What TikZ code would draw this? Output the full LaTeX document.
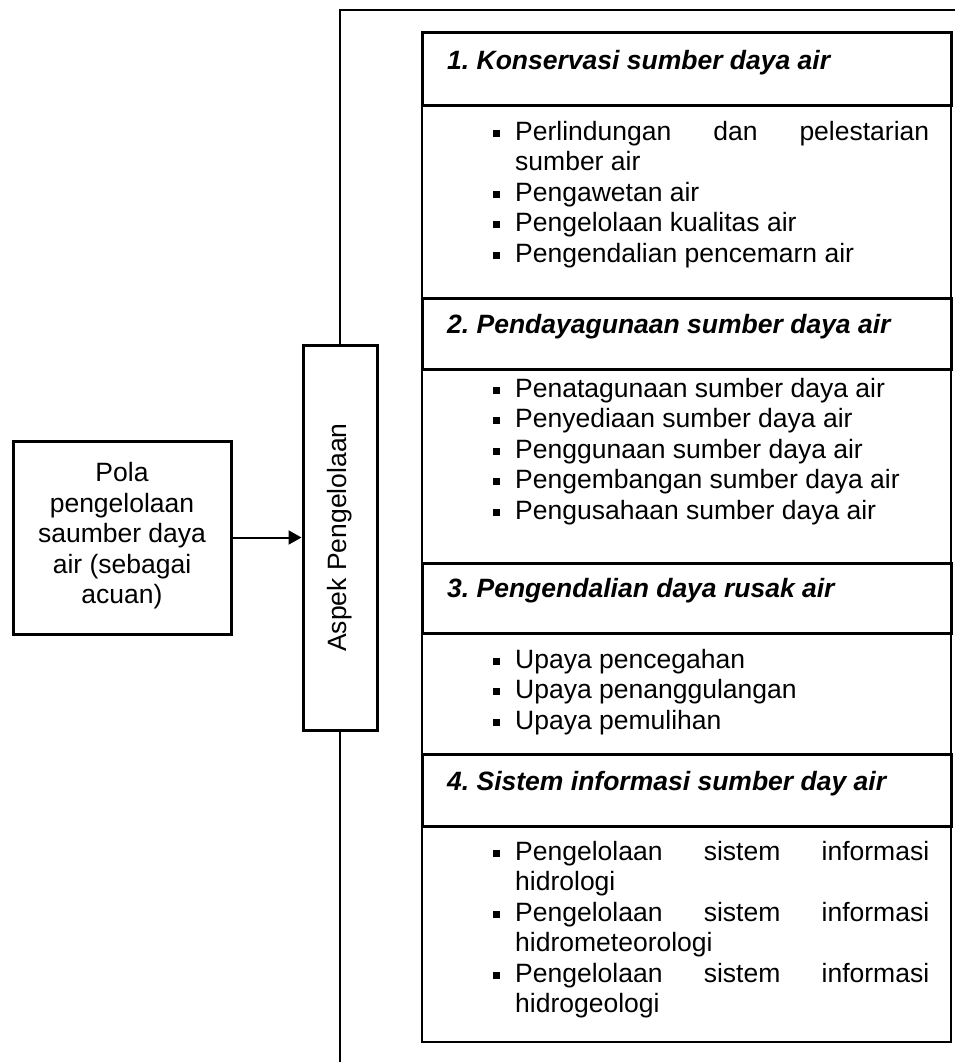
\documentclass[tikz,border=0pt]{standalone}
\usepackage{fontspec}
\setmainfont{Liberation Sans}
\usetikzlibrary{arrows.meta}
\frenchspacing
\newcommand\sqb{\raisebox{3.2pt}{\rule{7pt}{7pt}}}
\newcommand\itm[1]{\hangindent=22pt\hangafter=1\noindent\makebox[22pt][l]{\sqb}#1\par}
\newcommand\lst[1]{\parbox[t]{436pt}{\fontsize{26.5pt}{30.5pt}\selectfont\frenchspacing\parskip=0pt\tolerance=10000\hyphenpenalty=10000\emergencystretch=0pt #1}}
\begin{document}
\begin{tikzpicture}[x=1pt,y=-1pt,
  font=\fontsize{26.5pt}{30.5pt}\selectfont\frenchspacing,
  thickbox/.style={draw,line width=3pt},
  thinbox/.style={draw,line width=1.3pt},
  hdr/.style={anchor=base west,inner sep=0pt,font=\fontsize{26.5pt}{30.5pt}\selectfont\frenchspacing\bfseries\itshape},
  lstnode/.style={anchor=base west,inner sep=0pt},
  mainbox/.style={draw,line width=3pt,fill=white,inner sep=0pt}]
\useasboundingbox (0,0) rectangle (955,1062);
% outer frame
\draw[line width=1.5pt] (340,1062) -- (340,10);
\draw[line width=2.5pt] (339.25,10) -- (955,10);
% content boxes
\draw[thinbox] (422,106) rectangle (951,298);
\draw[thinbox] (422,369) rectangle (951,563);
\draw[thinbox] (422,633) rectangle (951,754);
\draw[thinbox] (422,826) rectangle (951,1042);
% header boxes
\draw[thickbox] (422,33) rectangle (951,106);
\draw[thickbox] (422,298) rectangle (951,369);
\draw[thickbox] (422,563) rectangle (951,633);
\draw[thickbox] (422,754) rectangle (951,826);
% headers
\node[hdr] (h1) at (447,70) {1. Konservasi sumber daya air};
\node[hdr] (h2) at (447,333) {2. Pendayagunaan sumber daya air};
\node[hdr] (h3) at (447,597) {3. Pengendalian daya rusak air};
\node[hdr] (h4) at (447,790) {4. Sistem informasi sumber day air};
% contents
\node[lstnode] (c1) at (493,140) {\lst{%
  \itm{Perlindungan dan pelestarian sumber air}%
  \itm{Pengawetan air}%
  \itm{Pengelolaan kualitas air}%
  \itm{Pengendalian pencemarn air}}};
\node[lstnode] (c2) at (493,397) {\lst{%
  \itm{Penatagunaan sumber daya air}%
  \itm{Penyediaan sumber daya air}%
  \itm{Penggunaan sumber daya air}%
  \itm{Pengembangan sumber daya air}%
  \itm{Pengusahaan sumber daya air}}};
\node[lstnode] (c3) at (493,668) {\lst{%
  \itm{Upaya pencegahan}%
  \itm{Upaya penanggulangan}%
  \itm{Upaya pemulihan}}};
\node[lstnode] (c4) at (493,860) {\lst{%
  \itm{Pengelolaan sistem informasi hidrologi}%
  \itm{Pengelolaan sistem informasi hidrometeorologi}%
  \itm{Pengelolaan sistem informasi hidrogeologi}}};
% left box and aspek box
\node[mainbox,minimum width=218pt,minimum height=193pt] (pola) at (122,537.5) {};
\node[align=center,inner sep=0pt] (polat) at (122,536) {Pola\\pengelolaan\\saumber daya\\air (sebagai\\acuan)};
\node[mainbox,minimum width=74pt,minimum height=385pt] (aspek) at (340,537.5) {};
\node[rotate=90,inner sep=0pt] (aspekt) at (aspek.center) {Aspek Pengelolaan};
\draw[line width=2pt,-{Triangle[length=13pt,width=14pt]}] (pola.east) -- (aspek.west);
\end{tikzpicture}
\end{document}
